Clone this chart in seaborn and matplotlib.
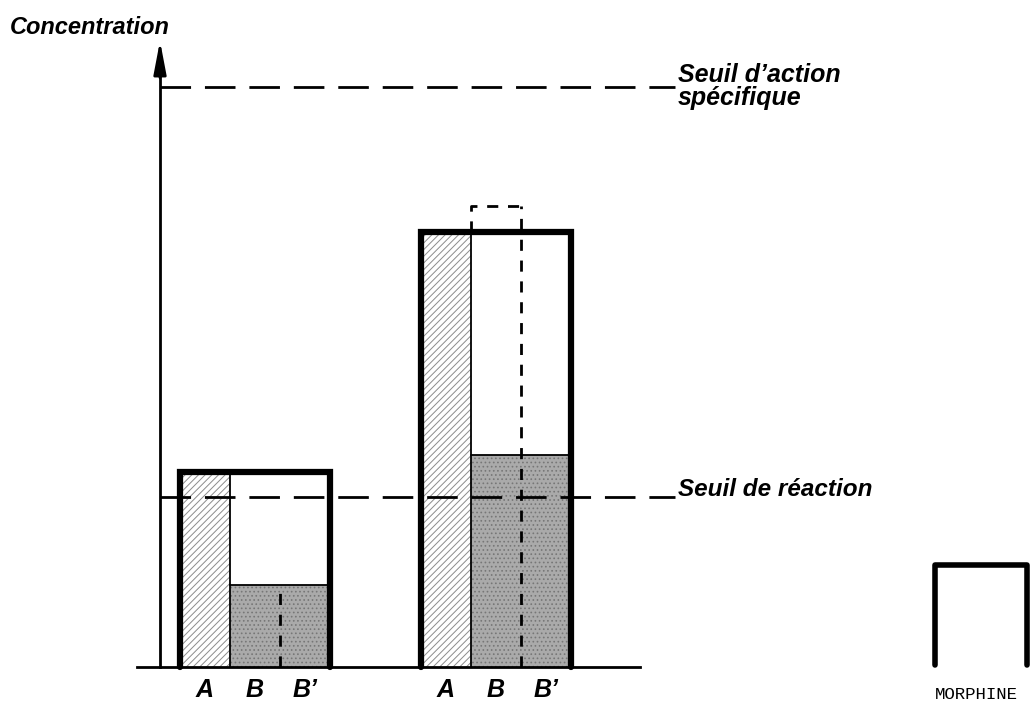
import matplotlib.pyplot as plt
import pandas as pd
import seaborn as sns

# concentrations, arbitrary units (seuil de reaction = 10)
components = ["A", "B", "B’"]
a_level = [11.5, 25.6]      # height of the whole bar (A)
b_level = [4.8, 12.5]       # grey part (B)
b_prime = [4.8, 27.1]       # dashed B' level
seuil_reaction = 10.0
seuil_action = 34.1
y_top = 35.0

# layout (x in sub-bar widths, origin on the y axis)
group_left = [0.4, 5.22]
line_end = 10.3

sns.set_style("white")
plt.rcParams["hatch.linewidth"] = 0.7
plt.rcParams["text.color"] = "black"
label_font = ["Liberation Sans", "DejaVu Sans"]

rows = []
for g in range(len(a_level)):
    for i, c in enumerate(components):
        rows.append({"pos": group_left[g] + 0.5 + i,
                     "height": a_level[g] if c == "A" else b_level[g],
                     "kind": "A" if c == "A" else "B"})
df = pd.DataFrame(rows)

fig = plt.figure(figsize=(10.3, 7.09), dpi=100)
ax = fig.add_axes([0, 0, 1, 1])

sns.barplot(data=df, x="pos", y="height", hue="kind", native_scale=True,
            dodge=False, width=1.0, palette={"A": "white", "B": "#aaaaaa"},
            linewidth=0, errorbar=None, legend=False, ax=ax)
for p in ax.containers[0]:
    p.set_hatch("/////")
    p.set_edgecolor("#8c8c8c")
for p in ax.containers[1]:
    p.set_hatch("....")
    p.set_edgecolor("#777777")

for g in range(len(a_level)):
    x0 = group_left[g]
    x1 = x0 + 3
    a, b, bp = a_level[g], b_level[g], b_prime[g]
    ax.plot([x0 + 1, x0 + 1], [0, a], color="black", lw=1.3)
    ax.plot([x0 + 1, x1], [b, b], color="black", lw=1.3)
    ax.plot([x0 + 2, x0 + 2], [0, bp], color="black", lw=2, dashes=(4, 3.5))
    if bp > a:
        ax.plot([x0 + 1, x0 + 1, x0 + 2], [a, bp, bp], color="black", lw=2,
                dashes=(4, 3.5))
    ax.plot([x0, x0, x1, x1], [0, a, a, 0], color="black", lw=4.5,
            solid_joinstyle="miter")
    for i, c in enumerate(components):
        ax.text(x0 + 0.5 + i, -1.35, c, ha="center", va="center",
                fontsize=18, style="italic", fontweight="bold",
                family=label_font)

# threshold lines
for s in [seuil_action, seuil_reaction]:
    ax.plot([0, line_end], [s, s], color="black", lw=2, dashes=(11, 5))
ax.text(line_end + 0.05, seuil_action + 1.45, "Seuil d’action\nspécifique",
        ha="left", va="top", fontsize=18, style="italic", fontweight="bold",
        family=label_font, linespacing=0.95)
ax.text(line_end + 0.05, seuil_reaction + 0.45, "Seuil de réaction",
        ha="left", va="center", fontsize=17.5, style="italic",
        fontweight="bold", family=label_font)

# axes
ax.set_xlim(-3.2, 17.4)
ax.set_ylim(-2.47, 39.24)
for side in ["top", "right"]:
    ax.spines[side].set_visible(False)
for side in ["left", "bottom"]:
    ax.spines[side].set_position(("data", 0))
    ax.spines[side].set_linewidth(2)
    ax.spines[side].set_color("black")
ax.spines["left"].set_bounds(0, y_top)
ax.spines["bottom"].set_bounds(-0.46, 9.6)
ax.annotate("", xy=(0, 37.0), xytext=(0, y_top - 0.5),
            arrowprops=dict(arrowstyle="-|>,head_length=2.0,head_width=0.38",
                            color="black", lw=2))
ax.tick_params(length=0, labelbottom=False, labelleft=False)
ax.set_xlabel("")
ax.set_ylabel("")
ax.text(-3.0, 37.6, "Concentration", ha="left", va="center", fontsize=17,
        style="italic", fontweight="bold", family=label_font)

# legend box
ax.plot([0.908, 0.908, 0.997, 0.997], [0.062, 0.203, 0.203, 0.062],
        transform=ax.transAxes, color="black", lw=4, solid_joinstyle="round")
ax.text(0.908, 0.02, "MORPHINE", transform=ax.transAxes, ha="left",
        va="center", fontsize=12.5, family="Liberation Mono")

fig.savefig("out.png", dpi=100)
